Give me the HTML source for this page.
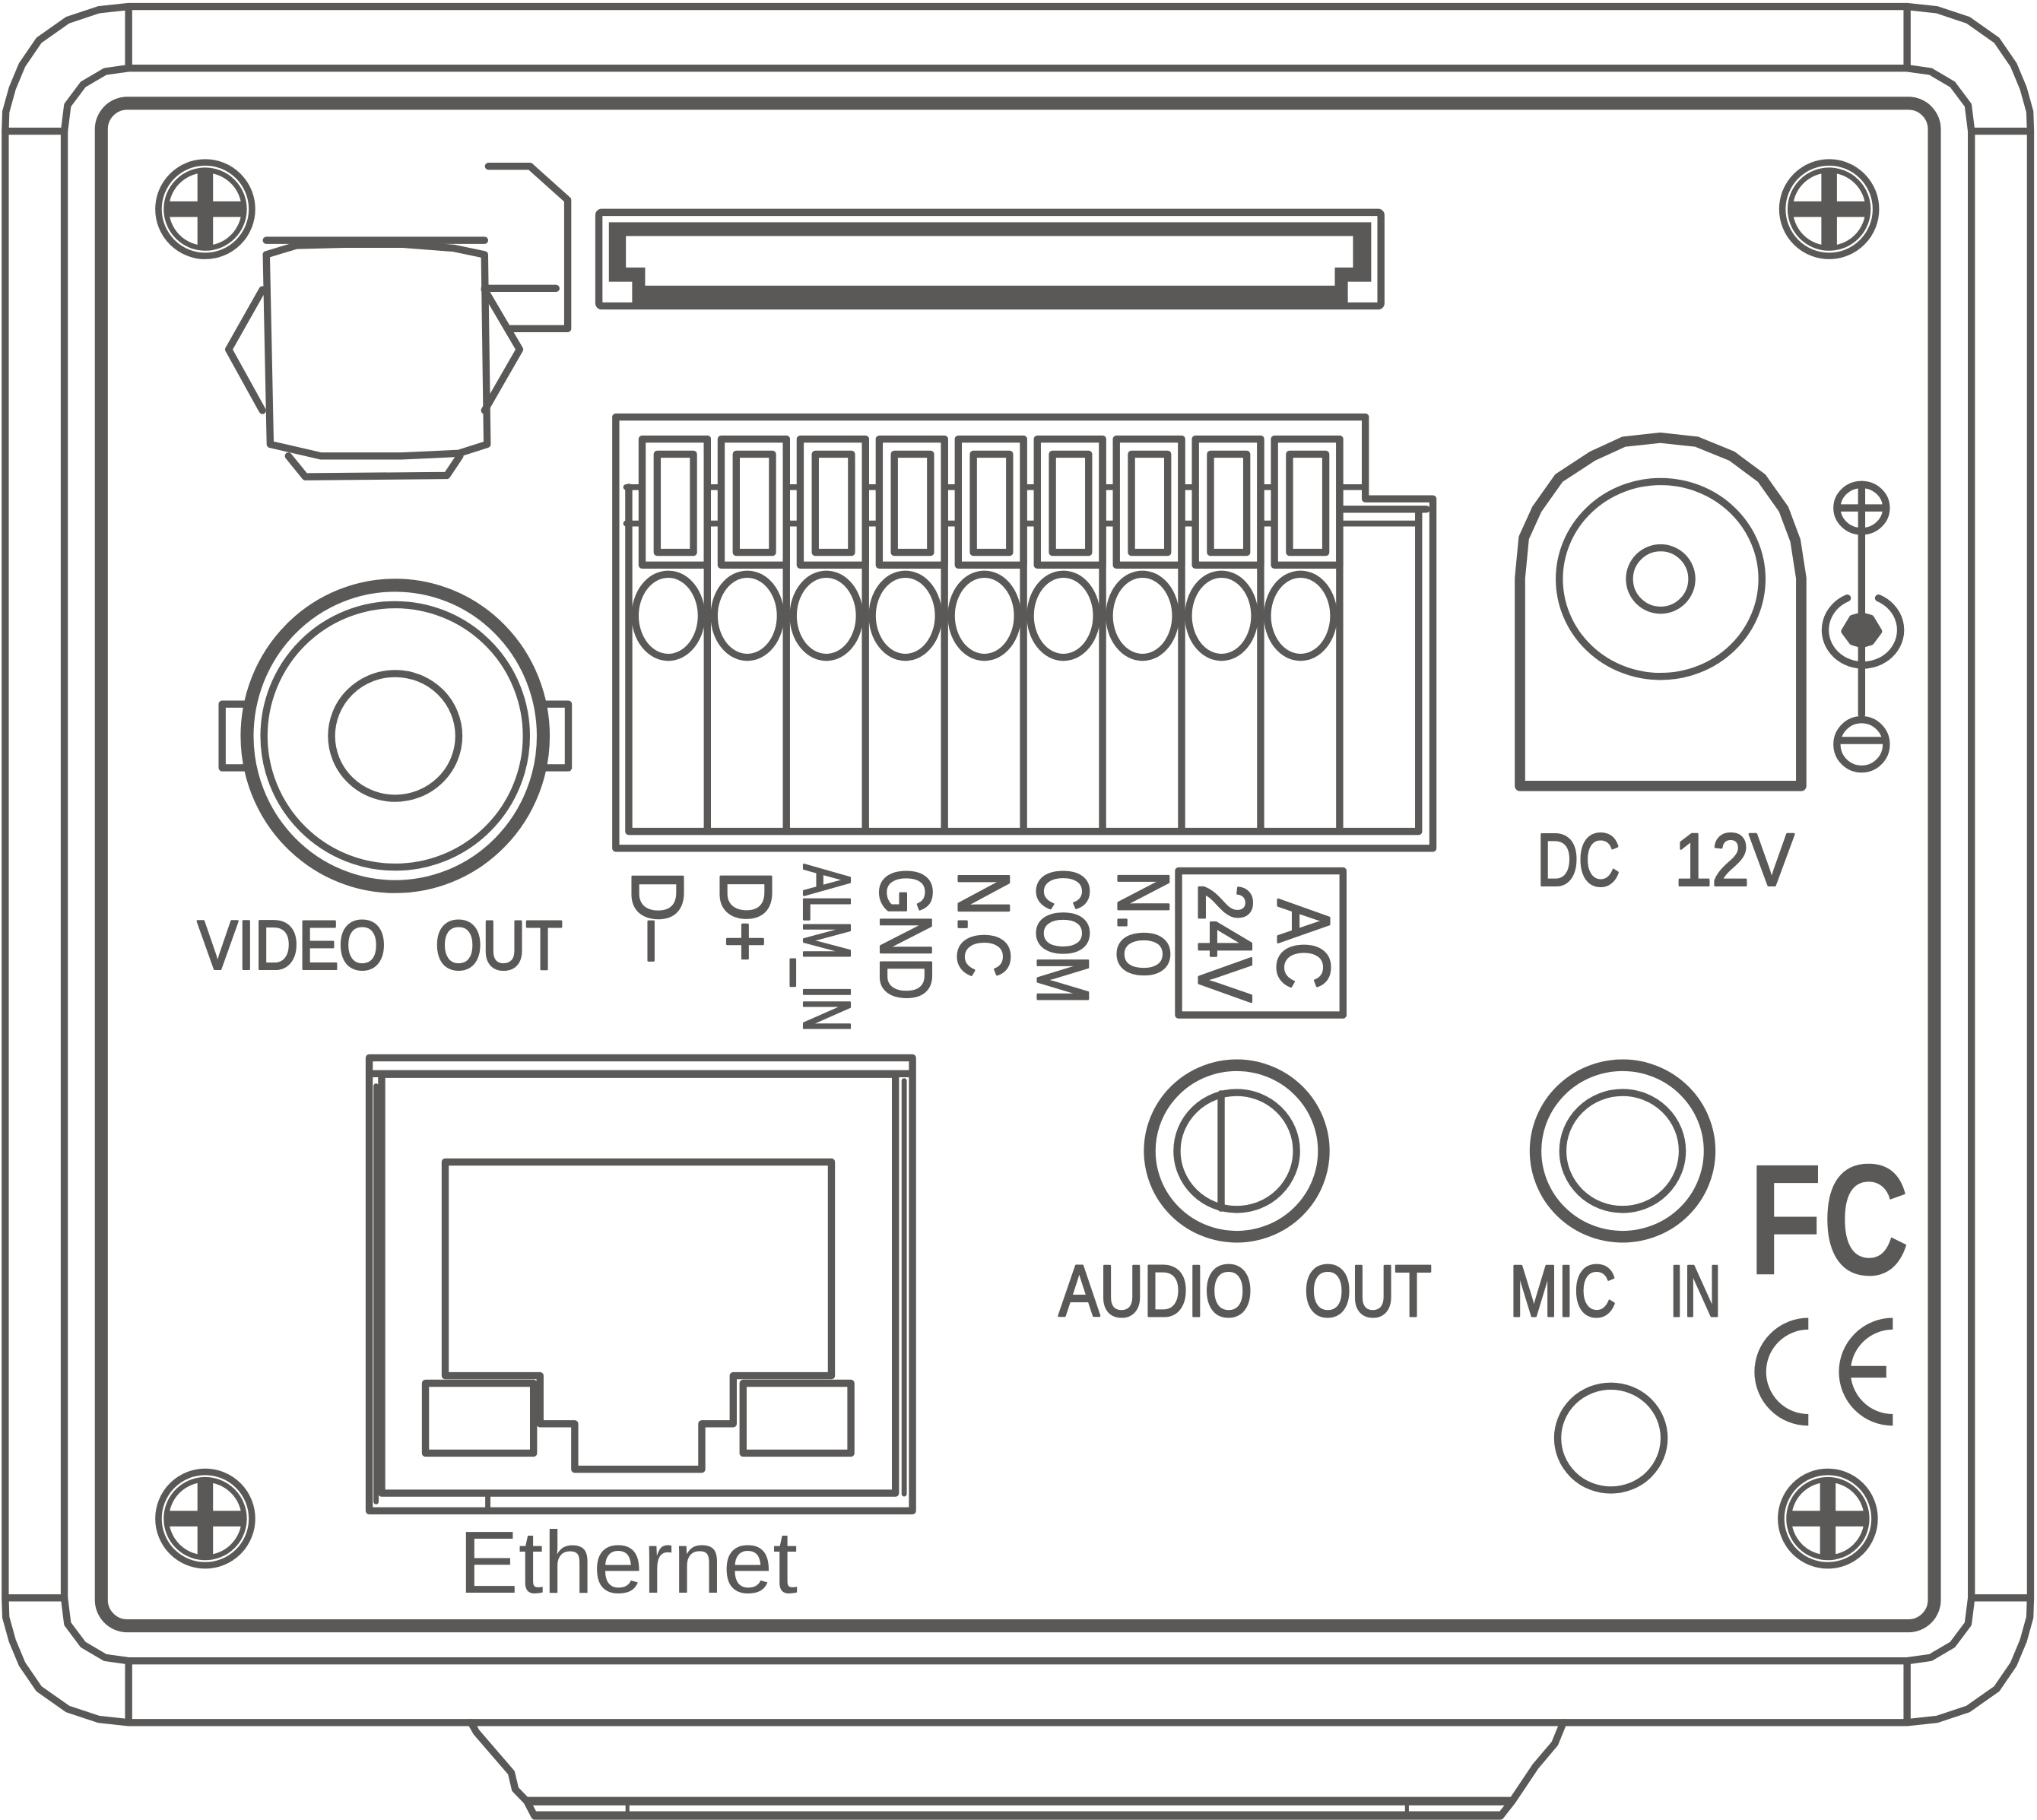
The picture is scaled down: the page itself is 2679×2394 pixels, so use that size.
<!DOCTYPE html>
<html><head><meta charset="utf-8"><style>
html,body{margin:0;padding:0;background:#fff;}
svg{display:block;}
</style></head><body>
<svg xmlns="http://www.w3.org/2000/svg" width="2679" height="2394" viewBox="0 0 1568 1401" preserveAspectRatio="none">
<defs>
<g id="screw">
  <ellipse cx="0" cy="0" rx="36" ry="36" stroke-width="5"/>
  <ellipse cx="0" cy="0" rx="30" ry="30" stroke-width="4"/>
  <rect x="-6" y="-29" width="12" height="58" fill="#5a5957" stroke="none"/>
  <rect x="-29" y="-6" width="58" height="12" fill="#5a5957" stroke="none"/>
</g>
<g id="slot">
  <rect x="494.3" y="338" width="50.2" height="97" fill="#fff"/>
  <path d="M544.5,338 V640"/>
  <rect x="505.9" y="349.6" width="27.9" height="75.6"/>
  <ellipse cx="514.4" cy="474" rx="25.5" ry="32"/>
</g>
</defs>
<rect x="0" y="0" width="1568" height="1401" fill="#fff"/>
<g fill="none" stroke="#5a5957" stroke-width="5.5" stroke-linejoin="round" stroke-linecap="round">
  <!-- outer frame -->
  <polygon points="4,101 4.5,86 9.5,68 17,50 30,31 52,15.5 76,7.5 99,5 1468,5 1491,7.5 1515,15.5 1537,31 1550,50 1557.5,68 1562.5,86 1563,101 1563,1230 1562.5,1245 1557.5,1263 1550,1281 1537,1300 1515,1315.5 1491,1323.5 1468,1326 99,1326 76,1323.5 52,1315.5 30,1300 17,1281 9.5,1263 4.5,1245 4,1230"/>
  <polygon points="49.5,101 52,81 64,65 81,55 99,52.5 1468,52.5 1486,55 1503,65 1515,81 1517.5,101 1517.5,1230 1515,1250 1503,1266 1486,1276 1468,1278.5 99,1278.5 81,1276 64,1266 52,1250 49.5,1230"/>
  <path d="M4,101 H49.5 M4,1230 H49.5 M1517.5,101 H1563 M1517.5,1230 H1563 M99,5 V52.5 M1468,5 V52.5 M99,1278.5 V1326 M1468,1278.5 V1326"/>
  <rect x="78" y="79.5" width="1411" height="1172" rx="20" stroke-width="10"/>

  <!-- stand -->
  <path d="M362.5,1326 L366.7,1333.4 L393.6,1364.6 L396.6,1377.3 L405.5,1386.5 L411.5,1398"/>
  <path d="M1203.4,1326 L1196.8,1342.2 L1181.9,1359.8 L1164,1386.5 L1155,1398"/>
  <path d="M405.5,1386.5 H1164 M411.5,1397.5 H1155" stroke-width="6.5" stroke-linecap="butt"/>
  <path d="M483,1387 V1397 M1083,1387 V1397" stroke-width="3"/>

  <!-- screws -->
  <use href="#screw" x="158" y="161"/>
  <use href="#screw" x="1408" y="161"/>
  <use href="#screw" x="158" y="1169"/>
  <use href="#screw" x="1407" y="1169"/>

  <!-- top-left component -->
  <polyline points="376,128 408,128 437,154 437,253 391,253"/>
  <path d="M373,222 H428"/>
  <path d="M205,185 H373"/>
  <polygon points="205,196 228,189 265,188 309,188 349,191 373,196 375,342 353,349 332,350 309,351 247,351 208,342"/>
  <polyline points="202,223 176,269 202,316"/>
  <polyline points="373,223 400,269 373,316"/>
  <polyline points="222,351 235,367 344,366 354,351"/>

  <!-- top slot connector -->
  <rect x="461" y="163.5" width="602" height="72" rx="2"/>
  <path fill="#5a5957" stroke="none" fill-rule="evenodd" d="M468.7,171.1 H1055.5 V216.9 H1037.5 V237.8 H486.6 V216.9 H468.7 Z M481.8,181.7 H1041.5 V205.9 H1027.5 V219.9 H496.6 V205.9 H481.8 Z"/>

  <!-- terminal block -->
  <path d="M474,321 H1051 V384 H1103 V653 H474 Z"/>
  <path d="M484,375 V640 H1092 V392 M1031,392 H1098"/>
  <path d="M482,375 H1051 M482,403 H1092" stroke-width="4.5"/>
  <use href="#slot" x="0"/>
  <use href="#slot" x="60.84"/>
  <use href="#slot" x="121.68"/>
  <use href="#slot" x="182.52"/>
  <use href="#slot" x="243.36"/>
  <use href="#slot" x="304.2"/>
  <use href="#slot" x="365.04"/>
  <use href="#slot" x="425.88"/>
  <use href="#slot" x="486.72"/>
  <rect x="907.2" y="670.4" width="126.6" height="110.9"/>

  <!-- VIDEO OUT BNC -->
  <rect x="171" y="542" width="19" height="49" fill="#fff"/>
  <rect x="418.5" y="542" width="19" height="49" fill="#fff"/>
  <ellipse cx="304.2" cy="566.5" rx="114" ry="116" stroke-width="10"/>
  <ellipse cx="304.2" cy="566.5" rx="101" ry="101"/>
  <ellipse cx="304.2" cy="566.5" rx="49" ry="48"/>

  <!-- DC jack -->
  <polygon points="1170,605 1170,445 1173,414 1183,392 1200,368 1226,351 1250,340 1278,337 1306,340 1333,351 1356,368 1373,392 1382,416 1386.5,445 1386.5,605" stroke-width="8"/>
  <ellipse cx="1278.3" cy="445.7" rx="78" ry="75"/>
  <ellipse cx="1278.3" cy="445.7" rx="24" ry="24"/>

  <!-- polarity symbol -->
  <ellipse cx="1433" cy="391" rx="19" ry="18"/>
  <path d="M1415,391 H1451 M1433,373 V550"/>
  <path d="M1446,460.4 A29,27 0 1 1 1422,460.4"/>
  <polygon points="1420,486 1426,476 1433,474 1440,476 1446,486 1440,494 1433,496 1426,494" fill="#5a5957"/>
  <ellipse cx="1433" cy="573" rx="19" ry="19"/>
  <path d="M1417,570 H1449"/>

  <!-- AUDIO OUT / MIC IN -->
  <ellipse cx="952" cy="886" rx="67" ry="66" stroke-width="9"/>
  <ellipse cx="952" cy="886" rx="46" ry="45"/>
  <path d="M940,842 V930"/>
  <ellipse cx="1249" cy="886" rx="67" ry="66" stroke-width="9"/>
  <ellipse cx="1249" cy="886" rx="46" ry="45"/>
  <ellipse cx="1240" cy="1107" rx="41" ry="40"/>

  <!-- CE -->
  <path d="M1392,1019 A37,37 0 0 0 1392,1093 M1457,1019 A37,37 0 0 0 1457,1093 M1420,1056 H1452" stroke-width="9" stroke-linecap="butt"/>

  <!-- Ethernet RJ45 -->
  <rect x="284.2" y="814.3" width="418.2" height="348.7"/>
  <path d="M284.2,826.5 H702.4"/>
  <rect x="293.8" y="827" width="395.5" height="322.4"/>
  <path d="M289.5,836 V1156 M696,832 V1150 M375.5,1150 V1163" stroke-width="4"/>
  <path d="M342.7,1059 V894.5 H640 V1059 H564.4 V1096 H540.2 V1131 H442.4 V1096 H415.7 V1059 Z"/>
  <rect x="327.5" y="1064.8" width="83.2" height="53.8"/>
  <rect x="572" y="1064.8" width="83" height="53.8"/>
</g>

<g fill="#5a5957" stroke="#5a5957" stroke-width="1.8" stroke-linejoin="round" font-family="Liberation Sans, Arial, sans-serif">
  <text x="152" y="746" font-size="53" textLength="145" lengthAdjust="spacingAndGlyphs">VIDEO</text>
  <text x="335" y="746" font-size="53" textLength="98" lengthAdjust="spacingAndGlyphs">OUT</text>
  <text x="1183" y="681.5" font-size="57" textLength="64" lengthAdjust="spacingAndGlyphs">DC</text>
  <text x="1289" y="681.5" font-size="57" textLength="92" lengthAdjust="spacingAndGlyphs">12V</text>
  <text x="815" y="1013" font-size="56" textLength="149" lengthAdjust="spacingAndGlyphs">AUDIO</text>
  <text x="1004" y="1013" font-size="56" textLength="98" lengthAdjust="spacingAndGlyphs">OUT</text>
  <text x="1162" y="1013" font-size="56" textLength="82" lengthAdjust="spacingAndGlyphs">MIC</text>
  <text x="1285" y="1013" font-size="56" textLength="40" lengthAdjust="spacingAndGlyphs">IN</text>

  <text transform="translate(487,670.4) rotate(90)" font-size="56" textLength="69" lengthAdjust="spacingAndGlyphs">D–</text>
  <text transform="translate(555,670.4) rotate(90)" font-size="56" textLength="70" lengthAdjust="spacingAndGlyphs">D+</text>
  <text transform="translate(619,665.4) rotate(90)" font-size="51" textLength="129" lengthAdjust="spacingAndGlyphs">ALM_IN</text>
  <text transform="translate(678,668.8) rotate(90)" font-size="56" textLength="101" lengthAdjust="spacingAndGlyphs">GND</text>
  <text transform="translate(738,670.4) rotate(90)" font-size="56" textLength="82" lengthAdjust="spacingAndGlyphs">N.C</text>
  <text transform="translate(799,668.8) rotate(90)" font-size="56" textLength="104" lengthAdjust="spacingAndGlyphs">COM</text>
  <text transform="translate(861,670.4) rotate(90)" font-size="56" textLength="82" lengthAdjust="spacingAndGlyphs">N.O</text>
  <text transform="translate(923,680.5) rotate(90)" font-size="58" textLength="91" lengthAdjust="spacingAndGlyphs">24V</text>
  <text transform="translate(984,692.3) rotate(90)" font-size="57" textLength="69" lengthAdjust="spacingAndGlyphs">AC</text>
</g>
<g fill="#5a5957" stroke="none" font-family="Liberation Sans, Arial, sans-serif">
  <text x="353" y="1226" font-size="68" textLength="261" lengthAdjust="spacingAndGlyphs">Ethernet</text>
  <text x="1346" y="981" font-size="122" font-weight="bold" textLength="124" lengthAdjust="spacingAndGlyphs">FC</text>
</g>
</svg>
</body></html>
